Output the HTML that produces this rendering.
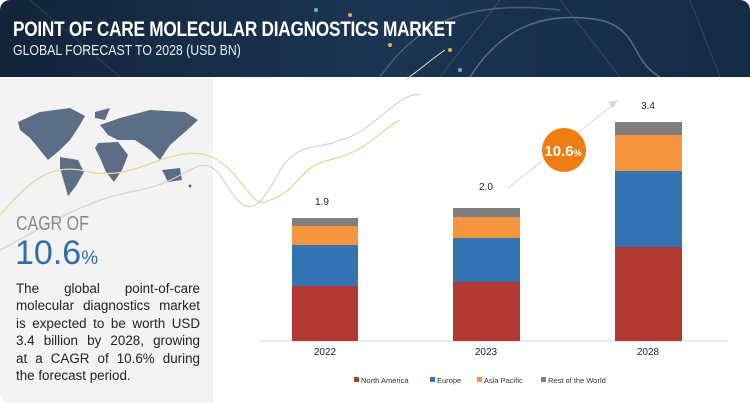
<!DOCTYPE html>
<html><head><meta charset="utf-8"><style>
body{margin:0;width:750px;height:405px;background:#fff;position:relative;overflow:hidden;font-family:"Liberation Sans",sans-serif}
.hdr{position:absolute;left:0;top:0;width:750px;height:77px;background:linear-gradient(90deg,#12243a,#1a3552 50%,#142b45);border-radius:10px 10px 0 0;overflow:hidden}
.t1{position:absolute;left:13px;top:18px;color:#fff;font-size:21px;font-weight:bold;transform:scaleX(0.82);transform-origin:left;white-space:nowrap;letter-spacing:-0.3px}
.t2{position:absolute;left:13px;top:42px;color:#e8edf2;font-size:15px;transform:scaleX(0.82);transform-origin:left;white-space:nowrap}
.lp{position:absolute;left:0;top:78px;width:213px;height:325px;background:#f3f3f4;border-radius:0 0 0 10px}
.cg{position:absolute;left:16px;top:213px;color:#8a8a8a;font-size:20px;transform:scaleX(0.8);transform-origin:left}
.cv{position:absolute;left:15px;top:234px;color:#2f6ea7;font-size:34px}
.cv span{font-size:19px}
.p{position:absolute;left:16px;top:280px;width:184px;font-size:13.4px;line-height:17.4px;color:#222}
.p div{text-align:justify;text-align-last:justify;white-space:nowrap;height:17.4px}
.p div.l{text-align-last:left}
.lab{position:absolute;font-size:10px;color:#222;transform:translateX(-50%)}
</style></head><body>
<div class="hdr">
<svg width="750" height="77" style="position:absolute;left:0;top:0">
<path d="M380 77 C420 20 470 0 560 10" stroke="#6c7f95" stroke-width="1.5" fill="none" opacity=".6"/>
<path d="M470 77 C500 30 540 10 600 20 C640 30 630 60 660 77" stroke="#8797aa" stroke-width="1.5" fill="none" opacity=".6"/>
<path d="M500 0 L440 77" stroke="#516781" stroke-width="1" opacity=".6"/>
<path d="M560 0 L620 77" stroke="#516781" stroke-width="1" opacity=".5"/>
<path d="M690 0 L720 77" stroke="#516781" stroke-width="1" opacity=".5"/>
<path d="M30 0 L120 77" stroke="#3b5370" stroke-width="1" opacity=".6"/>
<circle cx="316" cy="10" r="2" fill="#5ab8e0"/><circle cx="390" cy="45" r="2" fill="#d9b44a"/><circle cx="450" cy="50" r="2" fill="#d9b44a"/><circle cx="350" cy="15" r="2" fill="#c8b070"/><circle cx="460" cy="70" r="2" fill="#5ab8e0"/>
</svg>
<div class="t1">POINT OF CARE MOLECULAR DIAGNOSTICS MARKET</div>
<div class="t2">GLOBAL FORECAST TO 2028 (USD BN)</div>
</div>
<div class="lp"></div>
<svg width="750" height="405" style="position:absolute;left:0;top:0">
<g fill="#5c6e85">
<path d="M18 122 L40 112 L70 108 L85 116 L78 128 L70 140 L60 150 L48 160 L40 150 L30 138 L20 130Z"/>
<path d="M60 157 L78 160 L84 172 L76 186 L68 196 L64 182 L60 168Z"/>
<path d="M95 112 L110 108 L105 120 L95 118Z"/>
<path d="M100 125 L120 118 L150 110 L185 112 L198 120 L185 132 L170 145 L160 160 L150 150 L135 140 L118 140 L108 135Z"/>
<path d="M98 143 L118 142 L128 155 L122 170 L114 182 L106 172 L100 158 L95 148Z"/>
<path d="M162 170 L180 168 L182 180 L168 182Z"/>
<circle cx="190" cy="186" r="1.5"/>
</g>
<path d="M0 215 C30 180 50 165 80 170 C110 178 130 172 160 160 C190 150 210 150 230 170 C250 190 255 210 270 200 C300 190 300 165 330 160 C370 150 380 130 400 120" stroke="#e9d79a" stroke-width="1.3" fill="none"/>
<path d="M0 250 C40 230 80 200 140 190 C190 180 200 150 220 175 C240 205 250 230 280 170 C300 140 320 150 340 140 C370 135 400 90 420 95" stroke="#cfd3da" stroke-width="1.2" fill="none"/>
<path d="M405 80 C420 70 430 60 445 50" stroke="#f1e2b0" stroke-width="1" fill="none"/>
<line x1="260" y1="341" x2="728" y2="341" stroke="#d9d9d9" stroke-width="1"/>
<rect x="292" y="286" width="66" height="55" fill="#b33a32"/><rect x="292" y="245" width="66" height="41" fill="#3474b4"/><rect x="292" y="226" width="66" height="19" fill="#f7953f"/><rect x="292" y="218" width="66" height="8" fill="#7f7f7f"/>
<rect x="453" y="282" width="67" height="59" fill="#b33a32"/><rect x="453" y="238" width="67" height="44" fill="#3474b4"/><rect x="453" y="217" width="67" height="21" fill="#f7953f"/><rect x="453" y="208" width="67" height="9" fill="#7f7f7f"/>
<rect x="615" y="247" width="67" height="94" fill="#b33a32"/><rect x="615" y="171" width="67" height="76" fill="#3474b4"/><rect x="615" y="135" width="67" height="36" fill="#f7953f"/><rect x="615" y="122" width="67" height="13" fill="#7f7f7f"/>
<line x1="508" y1="188" x2="614" y2="104" stroke="#e4e4e4" stroke-width="1.5"/>
<path d="M618 100 L608 102 L613 108Z" fill="#d8d8d8"/>
<circle cx="564" cy="150" r="22" fill="#f07d12"/>
<text x="563" y="156" fill="#fff" font-size="15" font-weight="bold" text-anchor="middle" font-family="Liberation Sans">10.6<tspan font-size="9">%</tspan></text>
<g font-size="7.5" fill="#333" font-family="Liberation Sans">
<rect x="354" y="377" width="5" height="5" fill="#b33a32"/><text x="361" y="383">North America</text>
<rect x="430" y="377" width="5" height="5" fill="#3474b4"/><text x="437" y="383">Europe</text>
<rect x="477" y="377" width="5" height="5" fill="#f7953f"/><text x="484" y="383">Asia Pacific</text>
<rect x="541" y="377" width="5" height="5" fill="#7f7f7f"/><text x="548" y="383">Rest of the World</text>
</g>
</svg>
<div class="lab" style="left:322px;top:197px">1.9</div>
<div class="lab" style="left:486px;top:182px">2.0</div>
<div class="lab" style="left:648px;top:101px">3.4</div>
<div class="lab" style="left:325px;top:347px">2022</div>
<div class="lab" style="left:486px;top:347px">2023</div>
<div class="lab" style="left:648px;top:347px">2028</div>
<div class="cg">CAGR OF</div>
<div class="cv">10.6<span>%</span></div>
<div class="p">
<div>The global point-of-care</div>
<div>molecular diagnostics market</div>
<div>is expected to be worth USD</div>
<div>3.4 billion by 2028, growing</div>
<div>at a CAGR of 10.6% during</div>
<div class="l">the forecast period.</div>
</div>
</body></html>
